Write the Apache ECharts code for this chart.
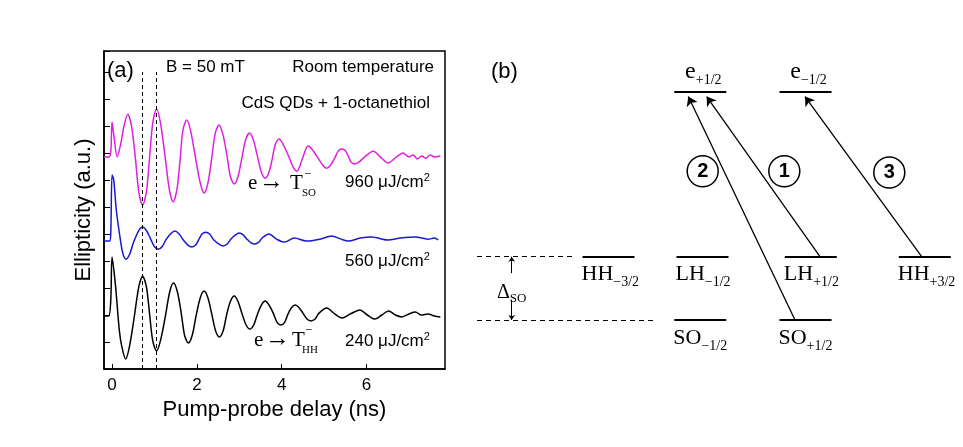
<!DOCTYPE html>
<html><head><meta charset="utf-8">
<script src="https://cdn.jsdelivr.net/npm/echarts@6/dist/echarts.min.js"></script>
<style>html,body{margin:0;padding:0;background:#fff}#c{width:963px;height:447px}</style>
</head><body><div id="c"></div>
<script>
// ---------- Panel (a) data ----------
const delayTicks = [0, 2, 4, 6];
const dashedDelays = [0.72, 1.05];
const curve960 = [[-0.19,7.85],[-0.08,7.85],[-0.03,8.04],[0.0,9.15],[0.05,8.56],[0.12,7.85],[0.2,8.30],[0.28,8.99],[0.37,9.44],[0.46,8.99],[0.55,7.81],[0.63,6.57],[0.72,6.07],[0.81,6.57],[0.88,7.74],[0.96,9.13],[1.05,9.63],[1.14,9.13],[1.24,8.0],[1.35,6.65],[1.44,6.19],[1.53,6.65],[1.6,7.67],[1.67,8.84],[1.76,9.22],[1.85,8.84],[1.96,7.89],[2.08,6.89],[2.17,6.52],[2.26,6.89],[2.35,7.81],[2.43,8.71],[2.52,9.04],[2.61,8.71],[2.7,8.0],[2.79,7.13],[2.88,6.85],[2.97,7.13],[3.06,7.81],[3.15,8.49],[3.24,8.74],[3.33,8.49],[3.42,7.93],[3.52,7.29],[3.61,7.07],[3.70,7.29],[3.78,7.81],[3.85,8.33],[3.94,8.52],[4.03,8.33],[4.15,7.93],[4.27,7.48],[4.36,7.33],[4.49,7.8],[4.62,8.26],[4.71,8.15],[4.84,7.85],[4.97,7.55],[5.06,7.44],[5.15,7.55],[5.25,7.81],[5.33,8.07],[5.42,8.15],[5.51,8.07],[5.58,7.85],[5.64,7.66],[5.73,7.59],[5.82,7.66],[5.95,7.85],[6.16,8.07],[6.33,7.85],[6.51,7.63],[6.7,7.85],[6.86,8.0],[7.0,7.85],[7.1,7.93],[7.2,7.78],[7.3,7.89],[7.4,7.81],[7.5,7.93],[7.6,7.85],[7.74,7.89]];
const curve560 = [[-0.19,4.74],[-0.06,4.74],[-0.03,5.07],[0.0,7.19],[0.04,7.0],[0.1,5.89],[0.2,4.75],[0.26,4.25],[0.33,4.07],[0.42,4.27],[0.5,4.67],[0.63,5.13],[0.72,5.26],[0.81,5.13],[0.9,4.85],[1.0,4.53],[1.09,4.44],[1.18,4.53],[1.28,4.81],[1.39,5.02],[1.48,5.11],[1.57,5.02],[1.68,4.78],[1.79,4.59],[1.88,4.52],[1.97,4.59],[2.05,4.81],[2.12,5.0],[2.21,5.07],[2.30,5.0],[2.4,4.78],[2.53,4.62],[2.62,4.56],[2.71,4.62],[2.8,4.81],[2.91,4.97],[3.0,5.04],[3.09,4.97],[3.18,4.81],[3.28,4.67],[3.37,4.63],[3.46,4.70],[3.55,4.87],[3.7,5.0],[3.88,4.81],[4.06,4.70],[4.3,4.85],[4.58,4.74],[4.9,4.81],[5.18,4.93],[5.4,4.81],[5.57,4.74],[5.85,4.85],[6.12,4.89],[6.5,4.78],[6.8,4.85],[7.15,4.89],[7.45,4.81],[7.6,4.85],[7.69,4.78]];
const curve240 = [[-0.19,1.96],[-0.08,1.96],[-0.03,2.56],[0.0,4.15],[0.08,3.11],[0.17,1.45],[0.23,0.83],[0.32,0.37],[0.41,0.83],[0.52,1.89],[0.63,3.04],[0.72,3.44],[0.81,3.04],[0.88,2.11],[0.96,1.04],[1.05,0.67],[1.14,1.04],[1.25,1.89],[1.36,2.86],[1.45,3.19],[1.54,2.86],[1.63,2.08],[1.71,1.25],[1.8,0.96],[1.89,1.25],[1.98,1.96],[2.08,2.64],[2.17,2.89],[2.26,2.64],[2.35,2.04],[2.44,1.42],[2.53,1.19],[2.62,1.42],[2.7,2.0],[2.79,2.5],[2.88,2.70],[2.97,2.5],[3.06,2.07],[3.16,1.63],[3.25,1.48],[3.34,1.63],[3.43,2.04],[3.52,2.37],[3.61,2.52],[3.70,2.37],[3.8,2.07],[3.89,1.73],[3.98,1.63],[4.07,1.73],[4.15,2.04],[4.23,2.27],[4.32,2.37],[4.41,2.27],[4.5,2.07],[4.60,1.84],[4.69,1.78],[4.78,1.84],[4.88,2.07],[5.06,2.26],[5.25,2.04],[5.42,1.89],[5.62,2.04],[5.84,2.19],[6.02,2.0],[6.2,1.85],[6.36,2.0],[6.52,2.15],[6.68,2.0],[6.83,1.93],[7.0,2.04],[7.15,2.11],[7.3,2.0],[7.45,2.04],[7.6,1.96],[7.74,1.93]];

// ---------- Panel (b) data (diagram units) ----------
const levelBase = ['e','e','HH','LH','LH','HH','SO','SO'];
const levelSub  = ['+1/2','\u22121/2','\u22123/2','\u22121/2','+1/2','+3/2','\u22121/2','+1/2'];
const levelX    = [23.03, 33.55, 13.85, 23.25, 34.08, 45.48, 23.03, 33.55];
const levelE    = [3.6, 3.6, 1, 1, 1, 1, 0, 0];
const transLabel = ['2','1','3'];
const transFromX = [32.5, 35.0, 45.17];
const transFromE = [0, 1, 1];
const transToX   = [21.83, 23.67, 33.5];
const transToE   = [3.53, 3.53, 3.53];
const circleX = [23.27, 31.43, 41.93];
const circleE = [2.35, 2.35, 2.33];
const refEnergies = [1, 0];          // HH/LH and SO energies (dashed guides)
const refExtentX = [10.3, 18.5];     // right end of dashed guides
const deltaX = 4.17;

const HALF = 2.6;
const SANS = 'Liberation Sans, Arial, sans-serif';
const SERIF = 'Liberation Serif, Times New Roman, serif';

const chart = echarts.init(document.getElementById('c'), null, {renderer:'canvas'});

function txt(x, y, text, size, family, align, extra) {
  return {type:'text', x:x, y:y, silent:true,
    style:Object.assign({text:text, fontSize:size, fontFamily:family, fill:'#000', align:align||'left', verticalAlign:'middle'}, extra||{})};
}
const supRich = {a:{fontSize:17, fontFamily:SANS, lineHeight:20, fill:'#000'}, s:{fontSize:11, fontFamily:SANS, lineHeight:11, verticalAlign:'top', fill:'#000'}};

const lineSer = (data, color) => ({
  type:'line', data:data, xAxisIndex:0, yAxisIndex:0, showSymbol:false, symbol:'none', smooth:0.3,
  lineStyle:{color:color, width:1.5}, z:3
});

const s960 = lineSer(curve960, '#e020e0');
s960.markLine = {
  silent:true, symbol:['none','none'], label:{show:false},
  lineStyle:{color:'#000', width:1, type:[4,3]},
  data: dashedDelays.map(d => [{coord:[d, 0]}, {coord:[d, 11.0]}])
};

const levelRich = (mainSize) => ({
  m:{fontFamily:SERIF, fontSize:mainSize, lineHeight:30, color:'#000'},
  s:{fontFamily:SERIF, fontSize:14, lineHeight:13, verticalAlign:'bottom', color:'#000'}
});

const option = {
  animation:false,
  backgroundColor:'#fff',
  grid:[
    {left:104, top:51, width:341, height:318, show:true, borderColor:'#000', borderWidth:1.5, backgroundColor:'transparent'},
    {left:470, top:35.15, width:490, height:348.15, show:false}
  ],
  xAxis:[
    {type:'value', gridIndex:0, min:-0.19, max:7.85,
      name:'Pump-probe delay (ns)', nameLocation:'middle', nameGap:27,
      nameTextStyle:{fontSize:22, fontFamily:SANS, color:'#000'},
      axisLine:{show:true, onZero:false, lineStyle:{color:'#000', width:1.5}},
      axisTick:{show:true, inside:true, length:5, customValues:delayTicks, lineStyle:{color:'#000'}},
      axisLabel:{show:true, customValues:delayTicks, fontSize:17, fontFamily:SANS, color:'#000', margin:8},
      splitLine:{show:false}},
    {type:'value', gridIndex:1, min:0, max:49, show:false}
  ],
  yAxis:[
    {type:'value', gridIndex:0, min:0, max:11.78, interval:1,
      name:'Ellipticity (a.u.)', nameLocation:'middle', nameGap:9,
      nameTextStyle:{fontSize:22, fontFamily:SANS, color:'#000'},
      axisLine:{show:true, onZero:false, lineStyle:{color:'#000', width:1.5}},
      axisTick:{show:true, inside:true, length:6, lineStyle:{color:'#000'}},
      axisLabel:{show:false}, splitLine:{show:false}},
    {type:'value', gridIndex:1, min:-1, max:4.5, show:false}
  ],
  series:[
    s960,
    lineSer(curve560, '#1818d0'),
    lineSer(curve240, '#000000'),
    // energy levels
    {type:'lines', coordinateSystem:'cartesian2d', xAxisIndex:1, yAxisIndex:1, silent:true,
      lineStyle:{color:'#000', width:2, opacity:1}, symbol:'none',
      data: levelX.map((x,i) => ({coords:[[x-HALF, levelE[i]],[x+HALF, levelE[i]]]}))},
    // dashed guides
    {type:'lines', coordinateSystem:'cartesian2d', xAxisIndex:1, yAxisIndex:1, silent:true,
      lineStyle:{color:'#000', width:1, type:[5,4], opacity:1}, symbol:'none',
      data: refEnergies.map((e,i) => ({coords:[[0.7, e],[refExtentX[i], e]]}))},
    // transitions
    {type:'lines', coordinateSystem:'cartesian2d', xAxisIndex:1, yAxisIndex:1, silent:true,
      lineStyle:{color:'#000', width:1.3, opacity:1}, symbol:['none','arrow'], symbolSize:9,
      data: transFromX.map((x,i) => ({coords:[[x, transFromE[i]],[transToX[i], transToE[i]]]}))},
    // delta SO arrows
    {type:'lines', coordinateSystem:'cartesian2d', xAxisIndex:1, yAxisIndex:1, silent:true,
      lineStyle:{color:'#000', width:1, opacity:1}, symbol:['none','arrow'], symbolSize:5,
      data:[{coords:[[deltaX, 0.74],[deltaX, refEnergies[0]]]},{coords:[[deltaX, 0.32],[deltaX, refEnergies[1]]]}]},
    // circled numbers
    {type:'scatter', xAxisIndex:1, yAxisIndex:1, silent:true, symbol:'circle', symbolSize:31,
      itemStyle:{color:'#fff', borderColor:'#000', borderWidth:1.5, opacity:1},
      label:{show:true, position:'inside', formatter:p => p.data[2], fontSize:20, fontWeight:'bold', fontFamily:SANS, color:'#000'},
      data: circleX.map((x,i) => [x, circleE[i], transLabel[i]]), z:5},
    // level labels (below)
    {type:'scatter', xAxisIndex:1, yAxisIndex:1, silent:true, symbolSize:0, itemStyle:{color:'#000', opacity:1},
      label:{show:true, color:'#000', opacity:1, position:[0,0], align:'left', verticalAlign:'top', offset:[-1,3],
        formatter:p => '{m|' + p.data[2] + '}{s|' + p.data[3] + '}', rich:levelRich(22)},
      data: levelX.map((x,i) => [x-HALF, levelE[i], levelBase[i], levelSub[i]]).filter((d,i) => levelE[i] < 2)},
    // level labels (above, electrons)
    {type:'scatter', xAxisIndex:1, yAxisIndex:1, silent:true, symbolSize:0, itemStyle:{color:'#000', opacity:1},
      label:{show:true, color:'#000', opacity:1, position:[0,0], align:'center', verticalAlign:'bottom', offset:[3,-5],
        formatter:p => '{m|' + p.data[2] + '}{s|' + p.data[3] + '}', rich:levelRich(24)},
      data: levelX.map((x,i) => [x, levelE[i], levelBase[i], levelSub[i]]).filter((d,i) => levelE[i] >= 2)},
    // delta SO label
    {type:'scatter', xAxisIndex:1, yAxisIndex:1, silent:true, symbolSize:0, itemStyle:{color:'#000', opacity:1},
      label:{show:true, color:'#000', opacity:1, position:[0,0], align:'left', verticalAlign:'middle',
        formatter:'{m|\u0394}{s|SO}',
        rich:{m:{fontFamily:SERIF, fontSize:20, lineHeight:24, color:'#000'},
              s:{fontFamily:SERIF, fontSize:13, lineHeight:12, verticalAlign:'bottom', color:'#000'}}},
      data:[[2.7, 0.427]]}
  ],
  graphic:[
    txt(107, 71, '(a)', 22, SANS),
    txt(166, 67.5, 'B = 50 mT', 17, SANS),
    txt(434, 67.5, 'Room temperature', 17, SANS, 'right'),
    txt(430, 103.5, 'CdS QDs + 1-octanethiol', 17, SANS, 'right'),
    txt(345, 182, '', 17, SANS, 'left', {text:'{a|960 \u03bcJ/cm}{s|2}', rich:supRich}),
    txt(345, 261, '', 17, SANS, 'left', {text:'{a|560 \u03bcJ/cm}{s|2}', rich:supRich}),
    txt(345, 341, '', 17, SANS, 'left', {text:'{a|240 \u03bcJ/cm}{s|2}', rich:supRich}),
    txt(248, 183.5, 'e', 21, SERIF),
    txt(259, 182.5, '\u2192', 25, SERIF),
    txt(290, 183.5, 'T', 21, SERIF),
    txt(304, 175, '\u2212', 13, SERIF),
    txt(302, 193, 'SO', 11, SERIF),
    txt(254, 340, 'e', 21, SERIF),
    txt(265, 339, '\u2192', 25, SERIF),
    txt(292, 340, 'T', 21, SERIF),
    txt(305, 331, '\u2212', 13, SERIF),
    txt(302, 350, 'HH', 11, SERIF),
    txt(491, 72, '(b)', 22, SANS)
  ]
};
chart.setOption(option);
</script>
</body></html>
